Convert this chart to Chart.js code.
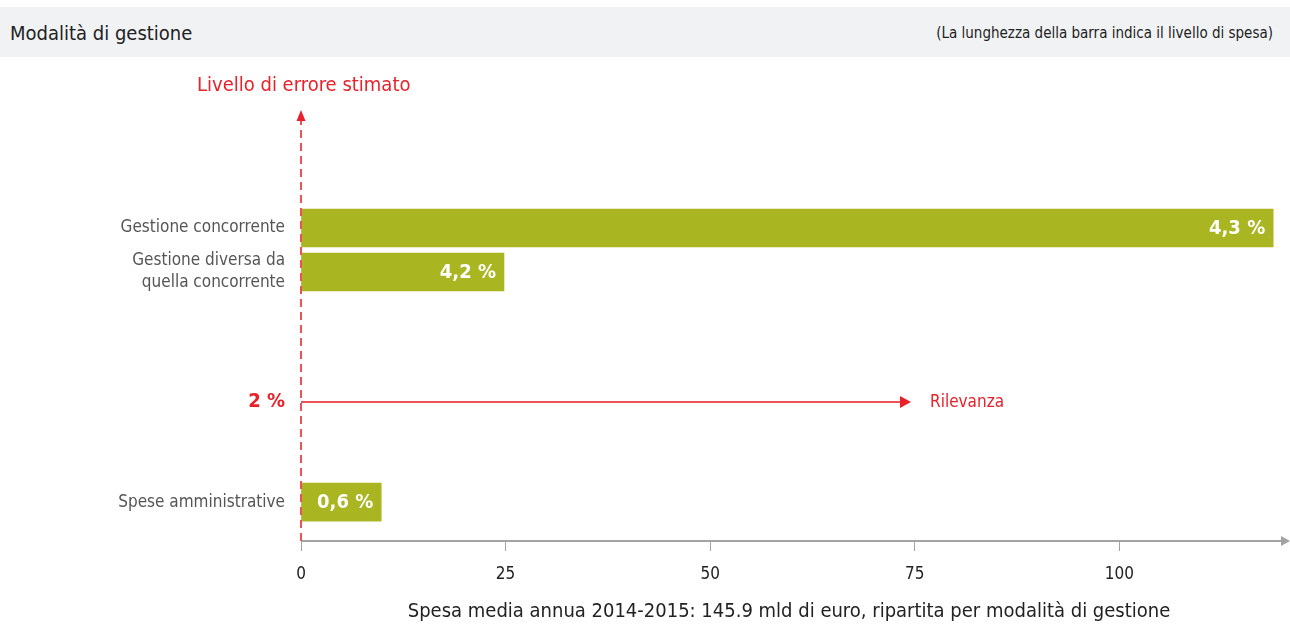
<!DOCTYPE html>
<html>
<head>
<meta charset="utf-8">
<script src="https://cdn.jsdelivr.net/npm/chart.js@4.4.1/dist/chart.umd.min.js"></script>
<style>
  html, body { margin: 0; padding: 0; background: #fff; }
  body { width: 1290px; height: 628px; position: relative; overflow: hidden; font-family: "Liberation Sans Narrow", "DejaVu Sans Condensed", sans-serif; }
  #head { position: absolute; left: 0; top: 7px; width: 1290px; height: 50px; background: #f1f2f4; }
  #head .t { position: absolute; left: 10px; top: 14px; font-size: 20px; color: #222; }
  #head .n { position: absolute; right: 17px; top: 17px; font-size: 15px; color: #222; }
  #chart { position: absolute; left: 0; top: 0; }
</style>
</head>
<body>
<canvas id="chart" width="1290" height="628"></canvas>
<div id="head"><span class="t">Modalità di gestione</span><span class="n">(La lunghezza della barra indica il livello di spesa)</span></div>
<script>
const categories = ['Gestione concorrente', ['Gestione diversa da', 'quella concorrente'], 'Spese amministrative'];
const spending = [118.8, 24.8, 9.8];        // mld di euro
const errorRates = [4.3, 4.2, 0.6];         // %
const xTicks = [0, 25, 50, 75, 100];
const threshold = '2 %';

// layout: row positions on the hidden vertical scale
const rowPos = [0, 1, 6.23];
const thresholdPos = 3.955;

const FONT = '"Liberation Sans Narrow", "DejaVu Sans Condensed", sans-serif';
const RED = '#e8212b';
const LINE_RED = '#ea5359';

const annotations = {
  id: 'annotations',
  afterDraw(chart) {
    const { ctx, chartArea, scales } = chart;
    const x0 = scales.x.getPixelForValue(0);
    const yAxis = chartArea.bottom;
    ctx.save();

    // x axis line with arrow
    ctx.strokeStyle = '#a3a3a3';
    ctx.lineWidth = 2;
    ctx.beginPath();
    ctx.moveTo(x0, yAxis);
    ctx.lineTo(1284, yAxis);
    ctx.stroke();
    ctx.fillStyle = '#a3a3a3';
    ctx.beginPath();
    ctx.moveTo(1290, yAxis);
    ctx.lineTo(1281, yAxis - 5);
    ctx.lineTo(1281, yAxis + 5);
    ctx.closePath();
    ctx.fill();

    // vertical dashed error axis with arrow
    ctx.strokeStyle = LINE_RED;
    ctx.lineWidth = 2;
    ctx.setLineDash([8, 5]);
    ctx.beginPath();
    ctx.moveTo(x0, yAxis);
    ctx.lineTo(x0, 118);
    ctx.stroke();
    ctx.setLineDash([]);
    ctx.fillStyle = RED;
    ctx.beginPath();
    ctx.moveTo(x0, 110);
    ctx.lineTo(x0 - 4.5, 121);
    ctx.lineTo(x0 + 4.5, 121);
    ctx.closePath();
    ctx.fill();

    // threshold line
    const yT = scales.y.getPixelForValue(thresholdPos);
    ctx.strokeStyle = LINE_RED;
    ctx.beginPath();
    ctx.moveTo(x0, yT);
    ctx.lineTo(902, yT);
    ctx.stroke();
    ctx.fillStyle = RED;
    ctx.beginPath();
    ctx.moveTo(911, yT);
    ctx.lineTo(900, yT - 6);
    ctx.lineTo(900, yT + 6);
    ctx.closePath();
    ctx.fill();

    ctx.textBaseline = 'middle';
    ctx.fillStyle = RED;
    ctx.font = 'bold 20px ' + FONT;
    ctx.textAlign = 'right';
    ctx.fillText(threshold, 285, yT);
    ctx.font = '17px ' + FONT;
    ctx.textAlign = 'left';
    ctx.fillText('Rilevanza', 930, yT + 1);
    ctx.font = '20px ' + FONT;
    ctx.fillText('Livello di errore stimato', 197, 86);

    // bar labels
    const meta = chart.getDatasetMeta(0);
    ctx.fillStyle = '#fff';
    ctx.font = 'bold 20px ' + FONT;
    ctx.textAlign = 'right';
    meta.data.forEach((bar, i) => {
      ctx.fillText(errorRates[i].toFixed(1).replace('.', ',') + ' %', bar.x - 8, bar.y + 1);
    });

    // x axis title
    ctx.fillStyle = '#222';
    ctx.font = '20px ' + FONT;
    ctx.textAlign = 'center';
    ctx.fillText('Spesa media annua 2014-2015: 145.9 mld di euro, ripartita per modalità di gestione', 789, 612);
    ctx.restore();
  }
};

new Chart(document.getElementById('chart'), {
  type: 'bar',
  data: {
    datasets: [{
      data: spending.map((v, i) => ({ x: v, y: rowPos[i] })),
      backgroundColor: '#a9b521',
      borderWidth: 0,
      barThickness: 38
    }]
  },
  options: {
    indexAxis: 'y',
    responsive: false,
    animation: false,
    layout: { padding: { top: 110, right: 7, left: 0, bottom: 0 } },
    plugins: { legend: { display: false }, tooltip: { enabled: false } },
    scales: {
      x: {
        type: 'linear',
        min: 0,
        max: 120,
        afterFit(axis) { axis.height = 87; },
        afterBuildTicks(axis) { axis.ticks = xTicks.map(v => ({ value: v })); },
        grid: { drawOnChartArea: false, drawTicks: true, tickLength: 10, color: '#a3a3a3', lineWidth: 1 },
        border: { display: false },
        ticks: { color: '#222', font: { family: FONT, size: 17 }, padding: 13 }
      },
      y: {
        type: 'linear',
        offset: false,
        reverse: true,
        min: -2.682,
        max: 7.114,
        afterFit(axis) { axis.width = 301; },
        afterBuildTicks(axis) { axis.ticks = rowPos.map(v => ({ value: v })); },
        grid: { display: false },
        border: { display: false },
        ticks: {
          color: '#555',
          font: { family: FONT, size: 17, lineHeight: 1.3 },
          padding: 8,
          callback: (v, i) => categories[i]
        }
      }
    }
  },
  plugins: [annotations]
});
</script>
</body>
</html>
